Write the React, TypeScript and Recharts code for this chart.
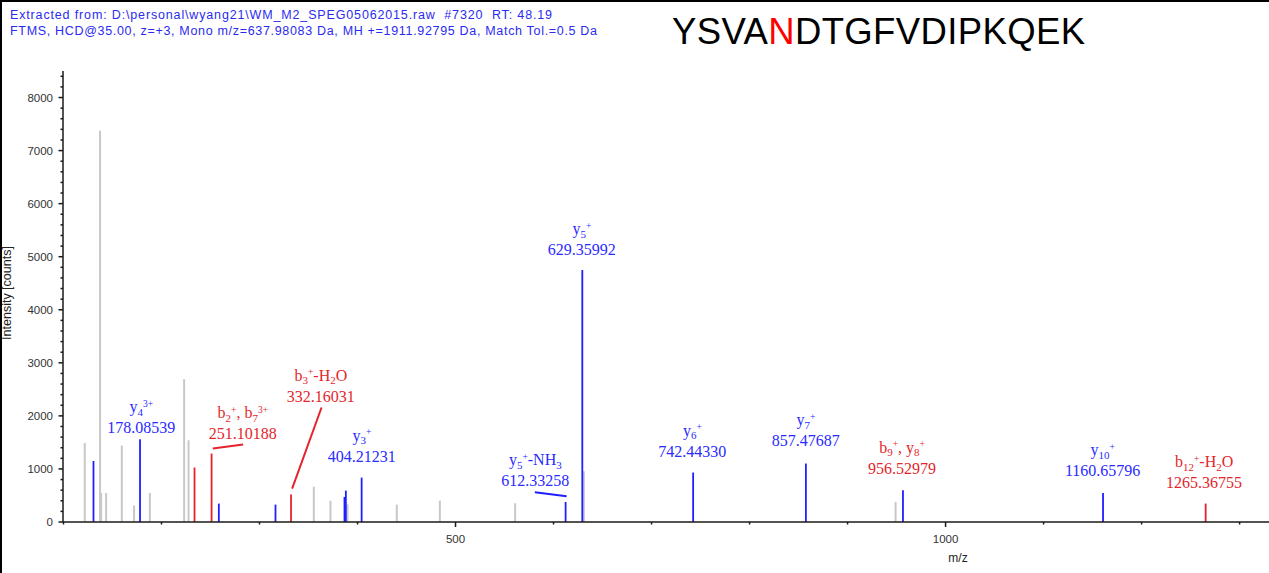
import React from 'react';
import { ScatterChart, Scatter, XAxis, YAxis, ReferenceLine, ReferenceDot } from 'recharts';

// ---- peaks (m/z, intensity) ----
const greyMz = [121.7, 137.3, 138.4, 143.5, 159.5, 172.0, 188.1, 223.1, 227.6, 355.4, 372.4, 389.8, 440.1, 484.0, 560.8, 630.9, 949.0];
const greyIntensity = [1490, 7375, 547, 547, 1440, 310, 547, 2692, 1540, 665, 400, 334, 328, 403, 353, 956, 377];

const blueMz = [130.6, 178.09, 258.5, 316.3, 386.7, 388.1, 404.21, 612.33, 629.36, 742.44, 857.48, 956.53, 1160.66];
const blueIntensity = [1150, 1560, 347, 328, 472, 592, 837, 378, 4750, 932, 1102, 598, 547];

const redMz = [233.7, 251.1, 332.16, 1265.37];
const redIntensity = [1026, 1290, 520, 347];

// ---- annotations ----
const labelNames = [
  'y_{4}^{3+}',
  'b_{2}^{+}, b_{7}^{3+}',
  'b_{3}^{+}-H_{2}O',
  'y_{3}^{+}',
  'y_{5}^{+}-NH_{3}',
  'y_{5}^{+}',
  'y_{6}^{+}',
  'y_{7}^{+}',
  'b_{9}^{+}, y_{8}^{+}',
  'y_{10}^{+}',
  'b_{12}^{+}-H_{2}O',
];
const labelValues = ['178.08539', '251.10188', '332.16031', '404.21231', '612.33258', '629.35992', '742.44330', '857.47687', '956.52979', '1160.65796', '1265.36755'];
const labelKinds = ['blue', 'red', 'red', 'blue', 'blue', 'blue', 'blue', 'blue', 'red', 'blue', 'red'];
// label anchors (centre m/z, intensity of the number baseline)
const labelAnchorMz = [179.4, 283, 362.6, 404.4, 581.4, 628.9, 741.6, 857.4, 955.6, 1160.2, 1263.8];
const labelAnchorInt = [1674, 1560, 2268, 1136, 674, 5023, 1230, 1428, 909, 862, 636];
// leader lines
const leaderStart = [[252.3, 1385], [333.3, 630], [580.9, 560]];
const leaderEnd = [[283.3, 1460], [363.3, 2158], [613.3, 485]];
const leaderKinds = ['red', 'red', 'blue'];

// ---- axes ----
const xTicks = [100, 200, 300, 400, 500, 600, 700, 800, 900, 1000, 1100, 1200, 1300];
const xTickLabels = [500, 1000];
const yTicks = Array.from({ length: 43 }, (_, i) => i * 200);
const yTickLabels = [0, 1000, 2000, 3000, 4000, 5000, 6000, 7000, 8000];

const titleLine1 = 'Extracted from: D:\\personal\\wyang21\\WM_M2_SPEG05062015.raw  #7320  RT: 48.19';
const titleLine2 = 'FTMS, HCD@35.00, z=+3, Mono m/z=637.98083 Da, MH +=1911.92795 Da, Match Tol.=0.5 Da';
const peptideBefore = 'YSVA';
const peptideSite = 'N';
const peptideAfter = 'DTGFVDIPKQEK';

const LINE = { grey: '#c8c8c8', blue: '#1f1fff', red: '#e5232b' };
const TEXT = { blue: '#2a2aff', red: '#e3262b' };
const SANS = '"Liberation Sans", Arial, sans-serif';
const SERIF = '"Liberation Serif", "Times New Roman", serif';

const toPoints = (mz: number[], it: number[]) => mz.map((m, i) => ({ mz: m, intensity: it[i] }));
const greyData = toPoints(greyMz, greyIntensity);
const blueData = toPoints(blueMz, blueIntensity);
const redData = toPoints(redMz, redIntensity);

type Part = { t: string; k: 'n' | 'sub' | 'sup' };
const parseLabel = (s: string): Part[] => {
  const parts: Part[] = [];
  let i = 0;
  let buf = '';
  while (i < s.length) {
    const c = s[i];
    if ((c === '_' || c === '^') && s[i + 1] === '{') {
      if (buf) { parts.push({ t: buf, k: 'n' }); buf = ''; }
      const end = s.indexOf('}', i);
      parts.push({ t: s.slice(i + 2, end), k: c === '_' ? 'sub' : 'sup' });
      i = end + 1;
    } else {
      buf += c;
      i++;
    }
  }
  if (buf) parts.push({ t: buf, k: 'n' });
  return parts;
};

const OFF = { n: 0, sub: 3.5, sup: -5.5 };
const SIZE = { n: 16, sub: 11, sup: 9.5 };

const PeakLabel = (props: any) => {
  const { cx, cy, name, value, color } = props;
  if (cx == null || cy == null) return null;
  const parts = parseLabel(name);
  let cur = 0;
  return (
    <g>
      <text x={cx} y={cy - 21} textAnchor="middle" fill={color} fontFamily={SERIF} fontSize={16} style={{ whiteSpace: 'pre' }}>
        {parts.map((p, j) => {
          const dy = OFF[p.k] - cur;
          cur = OFF[p.k];
          return (
            <tspan key={j} dy={dy} fontSize={SIZE[p.k]}>{p.t}</tspan>
          );
        })}
      </text>
      <text x={cx} y={cy} textAnchor="middle" fill={color} fontFamily={SERIF} fontSize={16}>{value}</text>
    </g>
  );
};

const XTick = (props: any) => {
  const { x, y, payload } = props;
  const v = payload.value;
  const major = xTickLabels.includes(v);
  return (
    <g>
      <line x1={x} y1={y} x2={x} y2={y + (major ? 5 : 2.5)} stroke="#1a1a1a" strokeWidth={1.5} />
      {major && (
        <text x={x} y={y + 21} textAnchor="middle" fill="#333" fontFamily={SANS} fontSize={11.5}>{v}</text>
      )}
    </g>
  );
};

const YTick = (props: any) => {
  const { x, y, payload } = props;
  const v = payload.value;
  const major = yTickLabels.includes(v);
  return (
    <g>
      <line x1={x} y1={y} x2={x - (major ? 4.5 : 2.5)} y2={y} stroke="#1a1a1a" strokeWidth={1.5} />
      {major && (
        <text x={x - 10} y={y + 4} textAnchor="end" fill="#333" fontFamily={SANS} fontSize={11.5}>{v}</text>
      )}
    </g>
  );
};

const Empty = () => <g />;

export default function App() {
  const peakLines = (data: { mz: number; intensity: number }[], color: string, w: number, key: string) =>
    data.map((d, i) => (
      <ReferenceLine
        key={`${key}-${i}`}
        segment={[{ x: d.mz, y: 0 }, { x: d.mz, y: d.intensity }]}
        stroke={color}
        strokeWidth={w}
        ifOverflow="visible"
      />
    ));

  return (
    <div style={{ position: 'absolute', left: 0, top: 0, width: 1269, height: 573, background: '#fff', overflow: 'hidden' }}>
      <ScatterChart width={1269} height={573} margin={{ top: 71, right: 0, bottom: 0, left: 0 }}>
        <XAxis
          type="number"
          dataKey="mz"
          domain={[99.5, 1330]}
          ticks={xTicks}
          interval={0}
          height={51}
          tickLine={false}
          tickSize={0}
          tickMargin={0}
          tick={<XTick />}
          axisLine={{ stroke: '#1a1a1a', strokeWidth: 1.5 }}
          allowDataOverflow
        />
        <YAxis
          type="number"
          dataKey="intensity"
          domain={[0, 8500]}
          ticks={yTicks}
          interval={0}
          width={63}
          tickLine={false}
          tickSize={0}
          tickMargin={0}
          tick={<YTick />}
          axisLine={{ stroke: '#1a1a1a', strokeWidth: 1.5 }}
          allowDataOverflow
        />
        {peakLines(greyData, LINE.grey, 2, 'g')}
        {peakLines(redData, LINE.red, 1.8, 'r')}
        {peakLines(blueData, LINE.blue, 1.8, 'b')}
        {leaderStart.map((s, i) => (
          <ReferenceLine
            key={`lead-${i}`}
            segment={[{ x: s[0], y: s[1] }, { x: leaderEnd[i][0], y: leaderEnd[i][1] }]}
            stroke={LINE[leaderKinds[i] as 'red' | 'blue']}
            strokeWidth={2}
            ifOverflow="visible"
          />
        ))}
        {labelNames.map((n, i) => (
          <ReferenceDot
            key={`lab-${i}`}
            x={labelAnchorMz[i]}
            y={labelAnchorInt[i]}
            r={0}
            ifOverflow="visible"
            shape={(p: any) => (
              <PeakLabel cx={p.cx} cy={p.cy} name={n} value={labelValues[i]} color={TEXT[labelKinds[i] as 'red' | 'blue']} />
            )}
          />
        ))}
        <Scatter data={greyData} fill={LINE.grey} shape={<Empty />} isAnimationActive={false} />
        <Scatter data={redData} fill={LINE.red} shape={<Empty />} isAnimationActive={false} />
        <Scatter data={blueData} fill={LINE.blue} shape={<Empty />} isAnimationActive={false} />
      </ScatterChart>
      <svg width={1269} height={573} style={{ position: 'absolute', left: 0, top: 0, pointerEvents: 'none' }}>
        <line x1={0} y1={1} x2={1269} y2={1} stroke="#000" strokeWidth={2} />
        <line x1={1} y1={0} x2={1} y2={573} stroke="#000" strokeWidth={2} />
        <text x={10} y={19} fill="#2b2bf0" fontFamily={SANS} fontSize={12.5} textLength={542} lengthAdjust="spacing" style={{ whiteSpace: 'pre' }}>{titleLine1}</text>
        <text x={10} y={35} fill="#2b2bf0" fontFamily={SANS} fontSize={12.5} textLength={587} lengthAdjust="spacing" style={{ whiteSpace: 'pre' }}>{titleLine2}</text>
        <text x={672} y={44} fill="#000" fontFamily={SANS} fontSize={36.5} textLength={413} lengthAdjust="spacing">
          {peptideBefore}
          <tspan fill="#ff0000">{peptideSite}</tspan>
          {peptideAfter}
        </text>
        <text x={0} y={0} transform="translate(11,293) rotate(-90)" textAnchor="middle" fill="#222" fontFamily={SANS} fontSize={12.5}>Intensity [counts]</text>
        <text x={958} y={562} textAnchor="middle" fill="#222" fontFamily={SANS} fontSize={12}>m/z</text>
      </svg>
    </div>
  );
}
